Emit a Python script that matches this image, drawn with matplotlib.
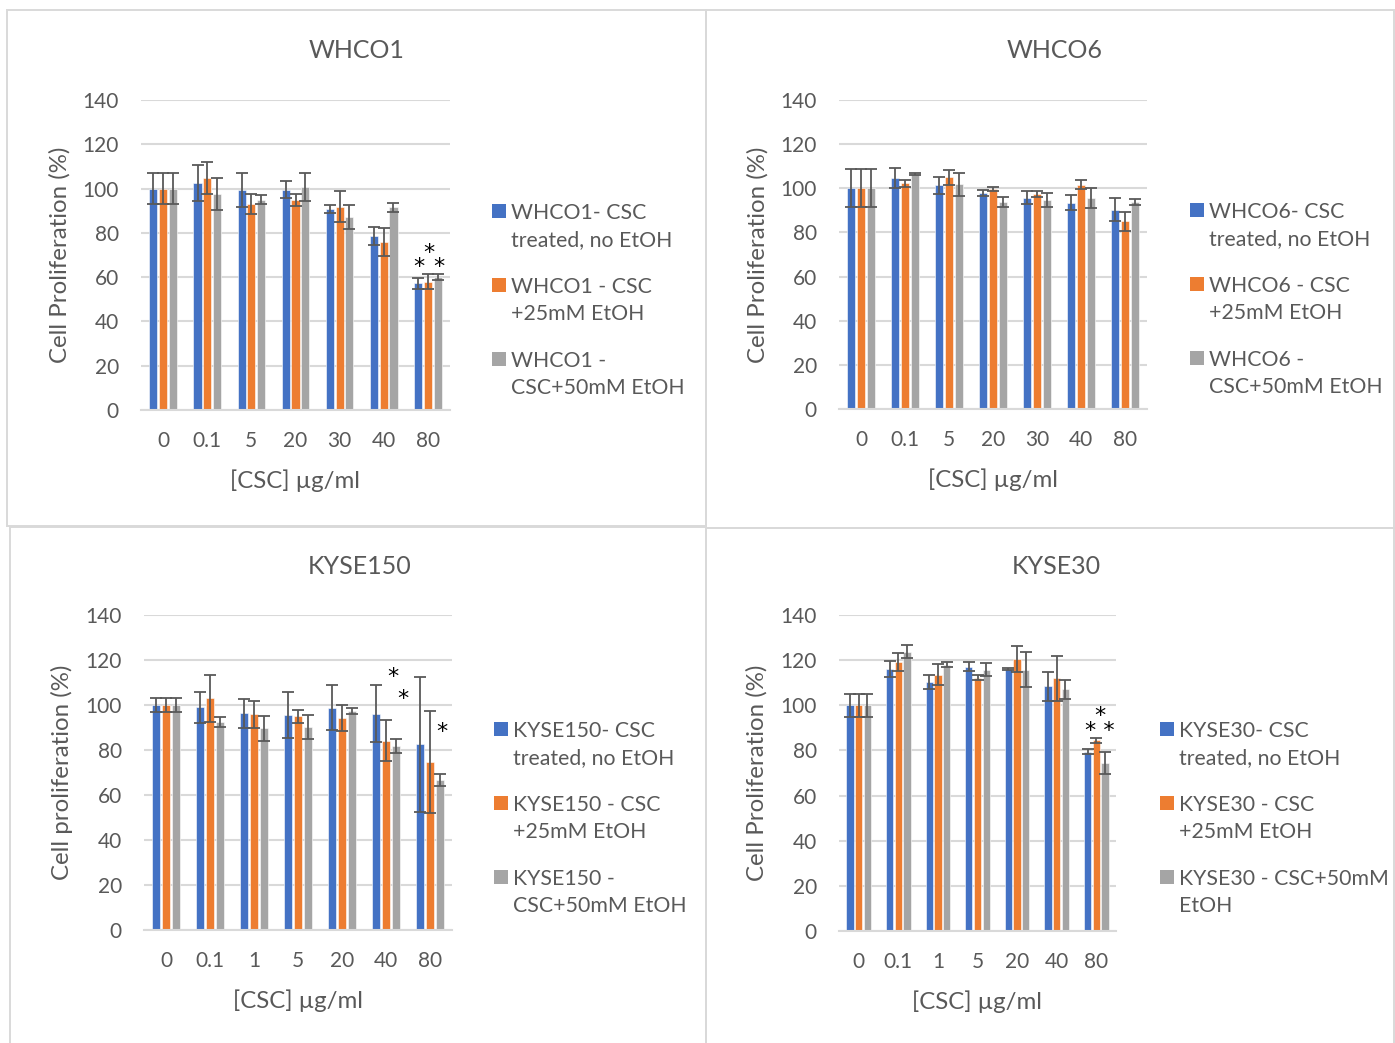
import matplotlib
matplotlib.use("Agg")
import matplotlib.pyplot as plt
from matplotlib.patches import Rectangle
import numpy as np

plt.rcParams['font.family'] = ['Lato', 'DejaVu Sans']

W, H = 1395, 1043
TXT = '#595959'
GRID = '#d9d9d9'
COLORS = ['#4472C4', '#ED7D31', '#A5A5A5']
FS = 15
FS_TITLE = 18
FS_LABEL = 17.3
FS_LEG = 15.3

# ---------------- data ----------------
whco1_cats = ['0', '0.1', '5', '20', '30', '40', '80']
whco1_blue = [100, 102.5, 99.4, 99.4, 90.8, 78.5, 57.2]
whco1_blue_err = [7, 8.2, 7.8, 3.8, 1.7, 4.0, 2.5]
whco1_orange = [100, 104.9, 93.0, 94.8, 91.8, 75.7, 58.0]
whco1_orange_err = [7, 7.2, 4.5, 2.7, 6.9, 6.3, 3.5]
whco1_gray = [100, 97.5, 95.0, 100.8, 87.2, 91.5, 60.0]
whco1_gray_err = [7, 7.3, 2.0, 6.3, 5.3, 2.0, 1.5]
whco1_labels = ['WHCO1- CSC\ntreated, no EtOH', 'WHCO1 - CSC\n+25mM EtOH', 'WHCO1 -\nCSC+50mM EtOH']
whco1_star_text = ['*', '*', '*']
whco1_star_x = [5.795, 6.023, 6.25]
whco1_star_y = [64.5, 71.0, 64.8]

whco6_cats = ['0', '0.1', '5', '20', '30', '40', '80']
whco6_blue = [100, 104.6, 101.4, 97.8, 95.8, 93.4, 90.3]
whco6_blue_err = [8.7, 4.4, 3.8, 1.2, 2.9, 3.4, 5.3]
whco6_orange = [100, 102.2, 104.9, 99.7, 97.3, 101.6, 85.0]
whco6_orange_err = [8.7, 1.5, 3.4, 1.0, 1.4, 2.0, 4.4]
whco6_gray = [100, 106.5, 101.8, 93.9, 94.8, 95.6, 93.7]
whco6_gray_err = [8.7, 0.6, 5.3, 2.2, 3.2, 4.4, 1.4]
whco6_labels = ['WHCO6- CSC\ntreated, no EtOH', 'WHCO6 - CSC\n+25mM EtOH', 'WHCO6 -\nCSC+50mM EtOH']
whco6_star_text = []
whco6_star_x = []
whco6_star_y = []

kyse150_cats = ['0', '0.1', '1', '5', '20', '40', '80']
kyse150_blue = [100, 98.9, 96.4, 95.4, 98.7, 96.1, 82.6]
kyse150_blue_err = [3.2, 7.0, 6.4, 10.2, 10.0, 12.7, 30.0]
kyse150_orange = [100, 103.0, 95.8, 94.9, 94.3, 84.2, 74.7]
kyse150_orange_err = [3.2, 10.4, 5.8, 2.9, 5.8, 9.0, 22.8]
kyse150_gray = [100, 92.4, 89.6, 90.3, 97.3, 81.8, 66.7]
kyse150_gray_err = [3.2, 2.2, 5.4, 5.4, 1.5, 3.3, 2.7]
kyse150_labels = ['KYSE150- CSC\ntreated, no EtOH', 'KYSE150 - CSC\n+25mM EtOH', 'KYSE150 -\nCSC+50mM EtOH']
kyse150_star_text = ['*', '*', '*']
kyse150_star_x = [5.16, 5.39, 6.27]
kyse150_star_y = [112.4, 102.8, 88.2]

kyse30_cats = ['0', '0.1', '1', '5', '20', '40', '80']
kyse30_blue = [100, 116.0, 110.3, 117.0, 116.0, 108.5, 79.5]
kyse30_blue_err = [5, 3.6, 3.1, 2.0, 0.5, 6.4, 1.1]
kyse30_orange = [100, 119.3, 113.6, 112.3, 120.6, 111.9, 84.4]
kyse30_orange_err = [5, 3.9, 4.7, 1.0, 5.8, 9.9, 1.0]
kyse30_gray = [100, 123.7, 118.0, 115.8, 115.8, 107.0, 74.3]
kyse30_gray_err = [5, 2.8, 1.2, 2.9, 7.8, 4.0, 4.8]
kyse30_labels = ['KYSE30- CSC\ntreated, no EtOH', 'KYSE30 - CSC\n+25mM EtOH', 'KYSE30 - CSC+50mM\nEtOH']
kyse30_star_text = ['*\n* *']
kyse30_star_x = [6.09]
kyse30_star_y = [92.0]

yticks = [0, 20, 40, 60, 80, 100, 120, 140]

fig = plt.figure(figsize=(W / 100, H / 100), dpi=100)


def fx(px):
    return px / W


def fy(py):
    return 1 - py / H


# panel borders
for (x0, y0, x1, y1) in [(7, 10, 706, 526), (706, 10, 1394, 528),
                         (10, 527, 706, 1046), (706, 528, 1394, 1046)]:
    fig.patches.append(Rectangle((fx(x0), fy(y1)), fx(x1) - fx(x0), fy(y0) - fy(y1),
                                 transform=fig.transFigure, fill=False,
                                 edgecolor=GRID, linewidth=1.4, zorder=0))

OFF = 0.22
BW = 0.185


def panel(rect_px, title, title_xy, ylabel, ylab_x, cats, vals, errs, labels,
          leg_x, leg_y0, star_text, star_x, star_y):
    l, t, r, b = rect_px
    ax = fig.add_axes([fx(l), fy(b), fx(r) - fx(l), fy(t) - fy(b)])
    x = np.arange(len(cats))
    for i in range(3):
        ax.bar(x + (i - 1) * OFF, vals[i], BW, color=COLORS[i], zorder=2,
               edgecolor='white', linewidth=0.4)
        ax.errorbar(x + (i - 1) * OFF, vals[i], yerr=errs[i], fmt='none',
                    ecolor='#595959', elinewidth=1.3, capsize=4.5, capthick=1.3,
                    zorder=3)
    ax.set_xlim(-0.5, len(cats) - 0.5)
    ax.set_ylim(0, 140)
    ax.set_yticks(yticks)
    ax.set_xticks(x)
    ax.set_xticklabels(cats)
    ax.grid(axis='y', color=GRID, linewidth=1.5, zorder=0)
    ax.set_axisbelow(True)
    for s in ['top', 'right', 'left']:
        ax.spines[s].set_visible(False)
    ax.spines['bottom'].set_color(GRID)
    ax.spines['bottom'].set_linewidth(1.5)
    ax.tick_params(length=0, labelsize=FS, colors=TXT)
    ax.tick_params(axis='y', pad=16)
    ax.tick_params(axis='x', pad=15)
    ax.set_ylabel(ylabel, fontsize=FS_LABEL, color=TXT, va='center')
    ax.yaxis.set_label_coords((ylab_x - l) / (r - l), 0.5)
    ax.set_xlabel('[CSC] µg/ml', fontsize=FS_LABEL, color=TXT, va='center')
    ax.xaxis.set_label_coords(0.5, -(71) / (b - t))
    fig.text(fx(title_xy[0]), fy(title_xy[1]), title, fontsize=FS_TITLE, color=TXT,
             ha='center', va='center')
    for st, sx, sy in zip(star_text, star_x, star_y):
        ax.text(sx, sy, st, fontsize=16, color='black', ha='center', va='center',
                multialignment='center', linespacing=0.72,
                family='DejaVu Sans', zorder=4)
    for i in range(3):
        yc = leg_y0 + i * 74
        fig.patches.append(Rectangle((fx(leg_x), fy(yc + 7)), fx(14), 14 / H,
                                     transform=fig.transFigure,
                                     facecolor=COLORS[i], edgecolor='none'))
        fig.text(fx(leg_x + 19), fy(yc - 8.3), labels[i], fontsize=FS_LEG, color=TXT,
                 ha='left', va='top', linespacing=1.48)
    return ax


panel((141, 100, 450, 410), 'WHCO1', (357, 50), 'Cell Proliferation (%)', 60,
      whco1_cats, [whco1_blue, whco1_orange, whco1_gray],
      [whco1_blue_err, whco1_orange_err, whco1_gray_err], whco1_labels,
      492, 211, whco1_star_text, whco1_star_x, whco1_star_y)
panel((839, 100, 1147, 409), 'WHCO6', (1055, 50), 'Cell Proliferation (%)', 758,
      whco6_cats, [whco6_blue, whco6_orange, whco6_gray],
      [whco6_blue_err, whco6_orange_err, whco6_gray_err], whco6_labels,
      1190, 210, whco6_star_text, whco6_star_x, whco6_star_y)
panel((144, 615, 452, 930), 'KYSE150', (360, 566), 'Cell proliferation (%)', 62,
      kyse150_cats, [kyse150_blue, kyse150_orange, kyse150_gray],
      [kyse150_blue_err, kyse150_orange_err, kyse150_gray_err], kyse150_labels,
      494, 729, kyse150_star_text, kyse150_star_x, kyse150_star_y)
panel((839, 615, 1116, 931), 'KYSE30', (1056, 566), 'Cell Proliferation (%)', 757,
      kyse30_cats, [kyse30_blue, kyse30_orange, kyse30_gray],
      [kyse30_blue_err, kyse30_orange_err, kyse30_gray_err], kyse30_labels,
      1160, 729, kyse30_star_text, kyse30_star_x, kyse30_star_y)

fig.savefig('out.png', dpi=100, facecolor='white')
